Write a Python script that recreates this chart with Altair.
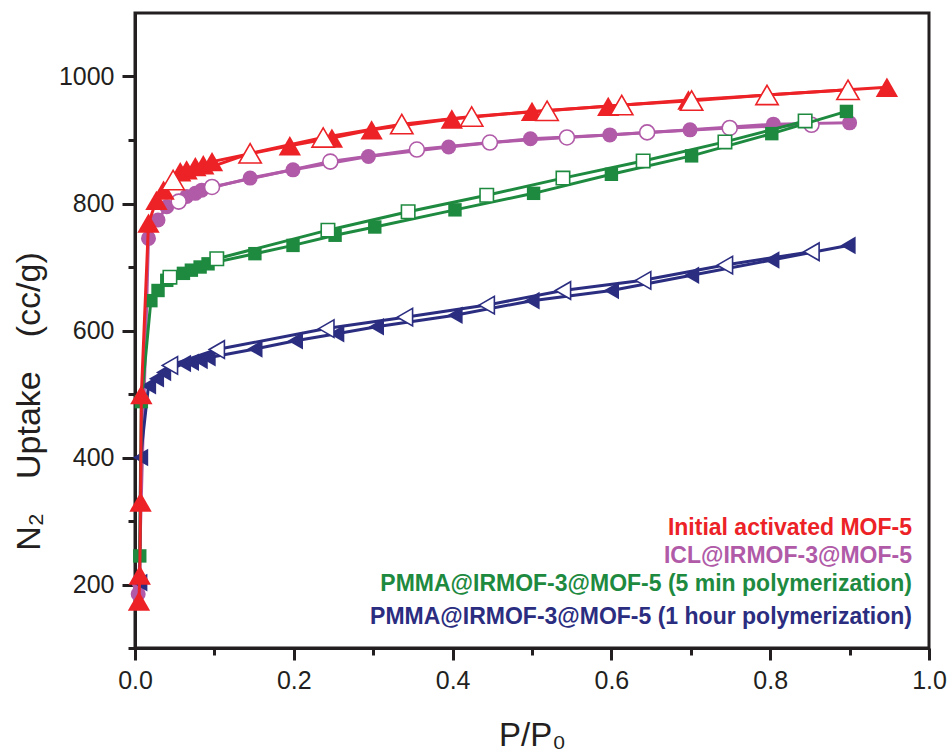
import altair as alt
import pandas as pd

# ---------------- data ----------------
series_names = [
    "Initial activated MOF-5",
    "ICL@IRMOF-3@MOF-5",
    "PMMA@IRMOF-3@MOF-5 (5 min polymerization)",
    "PMMA@IRMOF-3@MOF-5 (1 hour polymerization)",
]

# Initial activated MOF-5 (red): adsorption (filled) / desorption (open)
red_ads_x = [0.005, 0.006, 0.007, 0.008, 0.017, 0.027, 0.036, 0.057, 0.065, 0.076, 0.086, 0.097,
             0.195, 0.248, 0.298, 0.399, 0.500, 0.596, 0.697, 0.898, 0.947]
red_ads_y = [174, 215, 330, 499, 769, 805, 821, 850, 853, 858, 861, 866,
             891, 903, 916, 933, 945, 953, 963, 979, 983]
red_des_x = [0.048, 0.145, 0.237, 0.336, 0.424, 0.519, 0.613, 0.701, 0.796, 0.898]
red_des_y = [837, 879, 904, 925, 937, 946, 955, 962, 971, 979]

# ICL@IRMOF-3@MOF-5 (purple)
purple_ads_x = [0.004, 0.005, 0.017, 0.029, 0.040, 0.065, 0.076, 0.084, 0.145, 0.199,
                0.294, 0.395, 0.498, 0.598, 0.699, 0.804, 0.900]
purple_ads_y = [185, 203, 745, 774, 795, 811, 816, 821, 840, 853,
                874, 889, 902, 908, 916, 925, 927]
purple_des_x = [0.055, 0.097, 0.246, 0.355, 0.447, 0.544, 0.645, 0.749, 0.852]
purple_des_y = [803, 826, 866, 885, 896, 904, 912, 919, 924]

# PMMA@IRMOF-3@MOF-5, 5 min (green)
green_ads_x = [0.006, 0.008, 0.020, 0.029, 0.040, 0.061, 0.071, 0.082, 0.092, 0.151,
               0.199, 0.252, 0.302, 0.403, 0.502, 0.600, 0.701, 0.802, 0.896]
green_ads_y = [245, 488, 647, 663, 679, 690, 695, 700, 705, 721,
               734, 750, 763, 790, 816, 846, 875, 910, 945]
green_des_x = [0.044, 0.103, 0.243, 0.344, 0.443, 0.539, 0.640, 0.743, 0.844]
green_des_y = [684, 713, 758, 787, 813, 840, 867, 897, 930]

# PMMA@IRMOF-3@MOF-5, 1 hour (navy)
navy_ads_x = [0.006, 0.007, 0.017, 0.027, 0.036, 0.061, 0.071, 0.082, 0.092, 0.151,
              0.202, 0.254, 0.304, 0.403, 0.500, 0.600, 0.701, 0.802, 0.898]
navy_ads_y = [203, 400, 513, 524, 534, 548, 550, 553, 557, 571,
              584, 595, 606, 624, 647, 663, 687, 711, 734]
navy_des_x = [0.044, 0.103, 0.241, 0.340, 0.443, 0.539, 0.640, 0.743, 0.852]
navy_des_y = [545, 570, 603, 621, 640, 663, 679, 703, 724]

x_tick_values = [0.0, 0.1, 0.2, 0.3, 0.4, 0.5, 0.6, 0.7, 0.8, 0.9, 1.0]
y_tick_values = [100, 200, 300, 400, 500, 600, 700, 800, 900, 1000]

# ---------------- styles ----------------
RED = "#EC2227"
PURPLE = "#B05AA8"
GREEN = "#1E8A3F"
NAVY = "#2B2D80"
INK = "#231F20"
FONT = "Liberation Sans"

W, H = 794, 635

x_scale = alt.Scale(domain=[0, 1.0], nice=False, zero=False)
y_scale = alt.Scale(domain=[100, 1100], nice=False, zero=False)

x_axis = alt.Axis(
    values=x_tick_values,
    labelExpr="round(datum.value*10) % 2 == 0 ? format(datum.value, '.1f') : ''",
    tickSize={"condition": {"test": "round(datum.value*10) % 2 == 0", "value": 12}, "value": 7},
    labelFlush=False,
    title="P/P\u2080",
    titleFontSize=33,
    titleFontWeight="normal",
    titleX=397,
    titleY=97,
    titleAlign="center",
    titleBaseline="alphabetic",
    labelPadding=8,
    grid=False,
)
y_axis = alt.Axis(
    values=y_tick_values,
    labelExpr="datum.value % 200 == 0 ? format(datum.value, 'd') : ''",
    tickSize={"condition": {"test": "datum.value % 200 == 0", "value": 13}, "value": 7},
    labelFlush=False,
    title="N\u2082\u2003Uptake\u2003(cc/g)",
    titleFontSize=34,
    titleFontWeight="normal",
    titleX=-106,
    titleY=388,
    titleAngle=270,
    titleAlign="center",
    titleBaseline="middle",
    labelPadding=8,
    grid=False,
)

xenc = alt.X("x:Q", scale=x_scale, axis=x_axis)
yenc = alt.Y("y:Q", scale=y_scale, axis=y_axis)


def frame(xs, ys):
    return pd.DataFrame({"x": xs, "y": ys, "i": list(range(len(xs)))})


def series_layers(ads_x, ads_y, des_x, des_y, color, shape, size):
    ads = frame(ads_x, ads_y)
    des = frame(des_x, des_y)
    line_ads = alt.Chart(ads).mark_line(color=color, strokeWidth=3).encode(
        x=xenc, y=yenc, order="i:Q")
    line_des = alt.Chart(des).mark_line(color=color, strokeWidth=3).encode(
        x=xenc, y=yenc, order="i:Q")
    pts_ads = alt.Chart(ads).mark_point(
        shape=shape, size=size, filled=True, color=color, opacity=1).encode(x=xenc, y=yenc)
    pts_des = alt.Chart(des).mark_point(
        shape=shape, size=size, filled=True, fill="white", stroke=color,
        strokeWidth=1.6, opacity=1).encode(x=xenc, y=yenc)
    return [line_ads, line_des, pts_ads, pts_des]


layers = []
layers += series_layers(purple_ads_x, purple_ads_y, purple_des_x, purple_des_y,
                        PURPLE, "circle", 225)
layers += series_layers(navy_ads_x, navy_ads_y, navy_des_x, navy_des_y,
                        NAVY, "triangle-left", 310)
layers += series_layers(green_ads_x, green_ads_y, green_des_x, green_des_y,
                        GREEN, "square", 180)
layers += series_layers(red_ads_x, red_ads_y, red_des_x, red_des_y,
                        RED, "triangle-up", 500)

# in-plot legend (coloured labels, right aligned)
legend_df = pd.DataFrame({
    "label": series_names,
    "color": [RED, PURPLE, GREEN, NAVY],
    "py": [522, 550, 578, 611],
})
legend = alt.Chart(legend_df).mark_text(
    align="right", baseline="alphabetic", font=FONT, fontSize=23, fontWeight="bold"
).encode(
    x=alt.value(777),
    y=alt.Y("py:Q", scale=None),
    text="label:N",
    color=alt.Color("color:N", scale=None),
)
layers.append(legend)

chart = alt.layer(*layers).properties(
    width=W,
    height=H,
    autosize=alt.AutoSizeParams(type="none"),
    padding={"left": 135, "top": 13, "right": 22, "bottom": 108},
    background="white",
).configure_view(
    stroke=INK, strokeWidth=3
).configure_axis(
    labelFont=FONT,
    labelFontSize=25,
    labelColor=INK,
    titleFont=FONT,
    titleColor=INK,
    domainColor=INK,
    domainWidth=3,
    tickColor=INK,
    tickWidth=3,
)

chart.save("out.html", embed_options={"renderer": "svg", "actions": False})
